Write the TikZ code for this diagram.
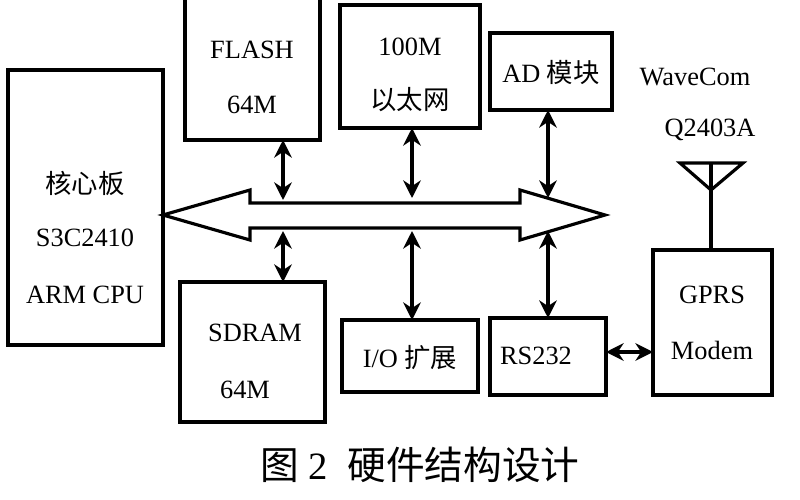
\documentclass[tikz,border=0pt]{standalone}
\usepackage{fontspec}
\setmainfont{Liberation Serif}
\newfontfamily\cjk{Noto Sans CJK SC}
\usetikzlibrary{arrows.meta}
\begin{document}
\begin{tikzpicture}[x=0.01cm,y=-0.01cm,
    blk/.style={draw,line width=0.9pt},
    lbl/.style={font=\fontsize{7.5}{9}\selectfont},
    bus/.style={{Stealth[length=5pt,width=5pt]}-{Stealth[length=5pt,width=5pt]},line width=1.4pt}]
  \useasboundingbox (0,0) rectangle (800,500);
  % blocks
  \draw[blk] (8,70) rectangle (163,345);
  \node[lbl] (core1) at (85,183) {{\cjk 核心板}};
  \node[lbl] (core2) at (85,238) {S3C2410};
  \node[lbl] (core3) at (85,295) {ARM CPU};
  \draw[blk] (185,-5) rectangle (320,140);
  \node[lbl] (flash1) at (252,50) {FLASH};
  \node[lbl] (flash2) at (252,105) {64M};
  \draw[blk] (340,5) rectangle (480,128);
  \node[lbl] (eth1) at (410,47) {100M};
  \node[lbl] (eth2) at (410,100) {{\cjk 以太网}};
  \draw[blk] (490,33) rectangle (612,110);
  \node[lbl] (ad) at (551,73) {AD {\cjk 模块}};
  \node[lbl] (wc1) at (695,77) {WaveCom};
  \node[lbl] (wc2) at (710,130) {Q2403A};
  \draw[blk] (653,250) rectangle (772,395);
  \node[lbl] (gprs1) at (712,295) {GPRS};
  \node[lbl] (gprs2) at (712,350) {Modem};
  \draw[blk] (180,282) rectangle (325,422);
  \node[lbl] (sdram1) at (255,333) {SDRAM};
  \node[lbl] (sdram2) at (245,390) {64M};
  \draw[blk] (342,320) rectangle (478,392);
  \node[lbl] (io) at (410,358) {I/O {\cjk 扩展}};
  \draw[blk] (490,318) rectangle (606,395);
  \node[lbl] (rs) at (536,356) {RS232};
  % antenna
  \draw[line width=0.9pt] (711,190) -- (680,163) -- (743,163) -- cycle;
  \draw[line width=0.9pt] (711,163) -- (711,250);
  % bus
  \draw[line width=0.9pt] (163,215) -- (250,190) -- (250,203) -- (520,203) -- (520,190)
    -- (605,215) -- (520,240) -- (520,228) -- (250,228) -- (250,240) -- cycle;
  % connectors
  \draw[bus] (283,140) -- (283,200);
  \draw[bus] (412,128) -- (412,198);
  \draw[bus] (548,110) -- (548,198);
  \draw[bus] (283,231) -- (283,282);
  \draw[bus] (412,231) -- (412,320);
  \draw[bus] (548,231) -- (548,318);
  \draw[bus] (606,352) -- (653,352);
  % caption
  \node[font=\fontsize{11}{13}\selectfont] (cap) at (420,465) {{\cjk 图} 2\enspace{\cjk 硬件结构设计}};
\end{tikzpicture}
\end{document}
